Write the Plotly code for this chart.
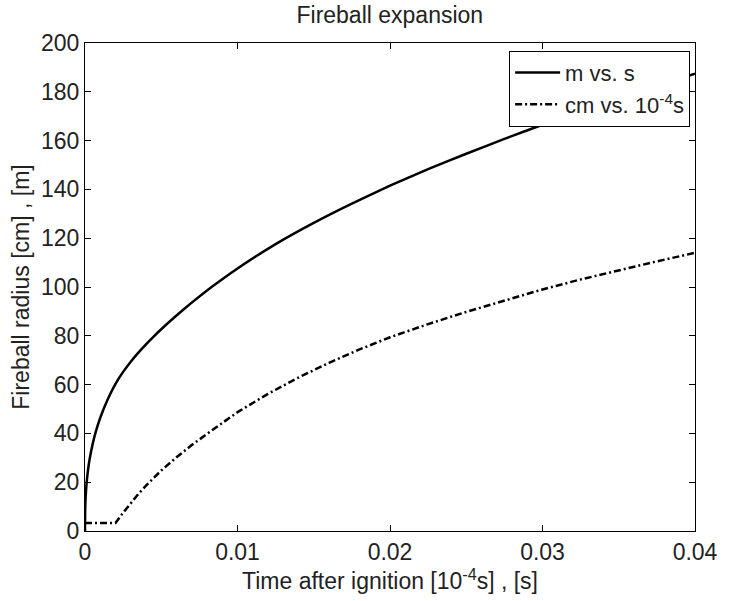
import plotly.graph_objects as go

# Time after ignition (shared axis units)
T_SOLID = [0, 0.00001, 0.00003, 0.00006, 0.00011, 0.0002, 0.0003, 0.0005, 0.0007,
           0.001, 0.0015, 0.002, 0.0025, 0.003, 0.0035, 0.004, 0.0045, 0.005,
           0.006, 0.007, 0.008, 0.009, 0.01, 0.0125, 0.015, 0.0175, 0.02,
           0.0225, 0.025, 0.0275, 0.03, 0.0325, 0.035, 0.0375, 0.04]
# m vs. s
R_SOLID = [0, 8.1, 12.2, 15.9, 20, 25.1, 29.3, 35.6, 40.5,
           46.4, 54.1, 60.3, 65.2, 69.4, 73.1, 76.5, 79.7, 82.7,
           88.3, 93.6, 98.6, 103.2, 107.6, 117.6, 126.3, 134.2, 141.5,
           148.3, 154.6, 160.7, 166.5, 172.2, 177.5, 182.5, 187.4]

T_DASH = [0, 0.002, 0.0025, 0.003, 0.0035, 0.004, 0.0045, 0.005, 0.006, 0.007,
          0.008, 0.009, 0.01, 0.012, 0.014, 0.016, 0.018, 0.02, 0.0225, 0.025,
          0.0275, 0.03, 0.0325, 0.035, 0.0375, 0.04]
# cm vs. 10^-4 s
R_DASH = [3.3, 3.3, 7.5, 11.5, 15.2, 18.6, 21.8, 24.8, 30.2, 35.2,
          39.8, 44.2, 48.7, 56.2, 62.9, 68.9, 74.4, 79.4, 84.8, 89.8,
          94.5, 99.0, 103.1, 106.9, 110.5, 114]

X_TICKS = [0, 0.01, 0.02, 0.03, 0.04]
X_TICK_LABELS = ["0", "0.01", "0.02", "0.03", "0.04"]
Y_TICKS = [0, 20, 40, 60, 80, 100, 120, 140, 160, 180, 200]

FONT = "Liberation Sans, Arial, sans-serif"
TEXT = "#222222"
SIZE = 23

fig = go.Figure()

fig.add_trace(go.Scatter(
    x=T_SOLID, y=R_SOLID, mode="lines",
    line=dict(color="black", width=2.5, shape="spline", smoothing=0.5),
    name="m vs. s",
))

fig.add_trace(go.Scatter(
    x=T_DASH, y=R_DASH, mode="lines",
    line=dict(color="black", width=2.5, dash="7px,3px,2px,3px"),
    name="cm vs. 10<sup>-4</sup>s",
))

axis_style = dict(
    showline=True, linecolor="black", linewidth=1, mirror="ticks",
    ticks="inside", ticklen=6, tickcolor="black", tickwidth=1,
    showgrid=False, zeroline=False,
    tickfont=dict(size=SIZE, color=TEXT, family=FONT),
)

fig.update_layout(
    width=730, height=601,
    margin=dict(l=85, r=28, t=43, b=70),
    paper_bgcolor="white", plot_bgcolor="white",
    font=dict(family=FONT, color=TEXT),
    title=dict(text="Fireball expansion", x=0.534, xanchor="center",
               y=1 - 15 / 601, yanchor="middle",
               font=dict(size=SIZE, family=FONT, color=TEXT)),
    xaxis=dict(range=[0, 0.04], tickvals=X_TICKS, ticktext=X_TICK_LABELS,
               title=dict(text="Time after ignition [10<sup>-4</sup>s] , [s]",
                          font=dict(size=SIZE, family=FONT, color=TEXT),
                          standoff=0),
               **axis_style),
    yaxis=dict(range=[0, 200], tickvals=Y_TICKS,
               title=dict(text="Fireball radius [cm] , [m]",
                          font=dict(size=SIZE, family=FONT, color=TEXT),
                          standoff=4),
               **axis_style),
    legend=dict(x=0.992, xanchor="right", y=0.984, yanchor="top",
                bgcolor="white", bordercolor="black", borderwidth=1,
                font=dict(size=22, family=FONT, color=TEXT),
                itemwidth=45, tracegroupgap=0),
    showlegend=True,
)

# drop the default page margin so the figure sits at the window origin
fig.write_html("out.html", config={"displayModeBar": False},
               post_script="document.body.style.margin='0';")
